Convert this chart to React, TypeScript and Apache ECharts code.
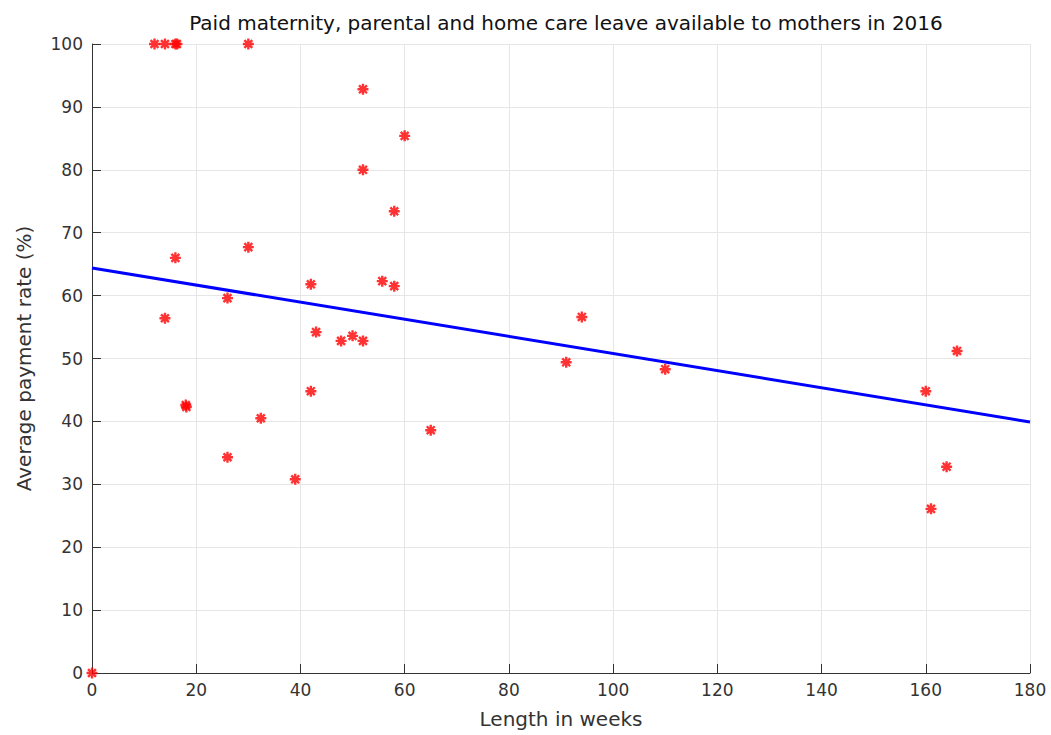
import React, { useEffect, useRef } from "react";
import * as echarts from "echarts";

const title = "Paid maternity, parental and home care leave available to mothers in 2016";
const xName = "Length in weeks";
const yName = "Average payment rate (%)";

const weeks = [0, 12, 14, 16, 16.3, 30, 52, 60, 52, 58, 16, 30, 42, 55.7, 58, 26, 14, 94, 43, 50, 47.8, 52, 91, 110, 166, 160, 42, 18, 18.1, 32.4, 65, 26, 164, 39, 161];
const rates = [0, 100, 100, 100, 100, 100, 92.8, 85.4, 80, 73.4, 66, 67.7, 61.8, 62.3, 61.5, 59.6, 56.4, 56.6, 54.2, 53.6, 52.8, 52.8, 49.4, 48.3, 51.2, 44.8, 44.8, 42.6, 42.3, 40.5, 38.6, 34.3, 32.8, 30.8, 26.1];

const trendX = [0, 180];
const trendY = [64.4, 39.9];

const xTicks = { min: 0, max: 180, interval: 20 };
const yTicks = { min: 0, max: 100, interval: 10 };

const FONT = "'DejaVu Sans', sans-serif";
const asterisk = "path://M0,-5L0,5M-5,0L5,0M-3.6,-3.6L3.6,3.6M-3.6,3.6L3.6,-3.6";

export default function App() {
  const ref = useRef<HTMLDivElement>(null);
  useEffect(() => {
    document.body.style.margin = "0";
    const chart = echarts.init(ref.current!, null, { renderer: "svg" });
    const axisCommon = {
      axisLine: { show: true, lineStyle: { color: "#333", width: 1 } },
      axisTick: { show: true, inside: true, length: 9, lineStyle: { color: "#333" } },
      splitLine: { show: true, lineStyle: { color: "#e6e6e6", width: 1 } },
      axisLabel: { color: "#333", fontSize: 17, fontFamily: FONT },
      nameTextStyle: { color: "#333", fontSize: 20, fontFamily: FONT },
    };
    chart.setOption({
      animation: false,
      backgroundColor: "#fff",
      title: {
        text: title,
        left: 561,
        textAlign: "center",
        top: 8,
        textStyle: { fontSize: 20, fontWeight: "normal", color: "#111", fontFamily: FONT },
      },
      grid: { left: 92, right: 21, top: 44, bottom: 62, containLabel: false },
      xAxis: {
        type: "value",
        ...xTicks,
        name: xName,
        nameLocation: "middle",
        nameGap: 36,
        ...axisCommon,
        axisLabel: { ...axisCommon.axisLabel, margin: 8 },
      },
      yAxis: {
        type: "value",
        ...yTicks,
        name: yName,
        nameLocation: "middle",
        nameGap: 58,
        ...axisCommon,
        axisLabel: { ...axisCommon.axisLabel, margin: 9 },
      },
      series: [
        {
          type: "line",
          data: trendX.map((x, i) => [x, trendY[i]]),
          showSymbol: false,
          lineStyle: { color: "#0000ff", width: 3 },
          z: 2,
        },
        {
          type: "scatter",
          data: weeks.map((w, i) => [w, rates[i]]),
          symbol: asterisk,
          symbolSize: 11,
          itemStyle: { color: "#ff0000", borderColor: "#ff0000", borderWidth: 2.4 },
          z: 3,
        },
      ],
    });
    return () => chart.dispose();
  }, []);
  return <div ref={ref} style={{ width: 1051, height: 735 }} />;
}
